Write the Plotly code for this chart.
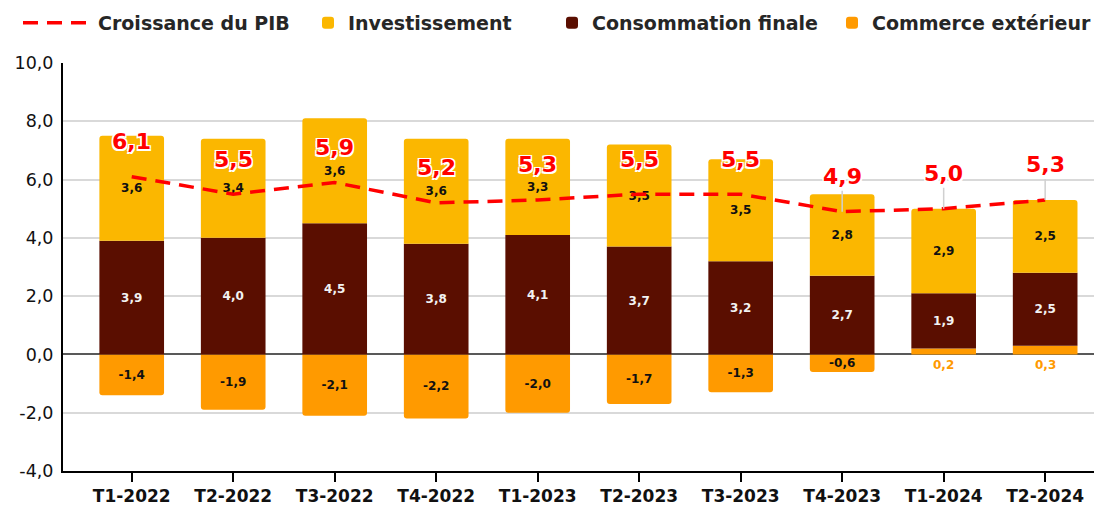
import plotly.graph_objects as go

categories = ["T1-2022", "T2-2022", "T3-2022", "T4-2022", "T1-2023",
              "T2-2023", "T3-2023", "T4-2023", "T1-2024", "T2-2024"]
investissement = [3.6, 3.4, 3.6, 3.6, 3.3, 3.5, 3.5, 2.8, 2.9, 2.5]
consommation = [3.9, 4.0, 4.5, 3.8, 4.1, 3.7, 3.2, 2.7, 1.9, 2.5]
commerce = [-1.4, -1.9, -2.1, -2.2, -2.0, -1.7, -1.3, -0.6, 0.2, 0.3]
pib = [6.1, 5.5, 5.9, 5.2, 5.3, 5.5, 5.5, 4.9, 5.0, 5.3]

y_ticks = [-4, -2, 0, 2, 4, 6, 8, 10]
y_tick_labels = ["-4,0", "-2,0", "0,0", "2,0", "4,0", "6,0", "8,0", "10,0"]

C_INV = "#FBB700"
C_CONS = "#5A0E00"
C_COM = "#FF9A00"
C_PIB = "#FF0000"
FONT = "DejaVu Sans"

W, H = 1094, 499  # page body has an 8px margin


def fr(v):
    return f"{v:.1f}".replace(".", ",")


fig = go.Figure()

fig.add_trace(go.Bar(
    x=categories, y=commerce, name="Commerce extérieur",
    marker=dict(color=C_COM, line=dict(width=0)),
    text=[fr(v) if v < 0 else "" for v in commerce],
    textposition="inside", insidetextanchor="middle", textangle=0,
    textfont=dict(family=FONT, size=12, color="#111111", weight="bold"),
    legend="legend4", hoverinfo="skip",
))
fig.add_trace(go.Bar(
    x=categories, y=consommation, name="Consommation finale",
    marker=dict(color=C_CONS, line=dict(width=0)),
    text=[fr(v) for v in consommation],
    textposition="inside", insidetextanchor="middle", textangle=0,
    textfont=dict(family=FONT, size=12, color="#F2F2F2", weight="bold"),
    legend="legend3", hoverinfo="skip",
))
fig.add_trace(go.Bar(
    x=categories, y=investissement, name="Investissement",
    marker=dict(color=C_INV, line=dict(width=0)),
    text=[fr(v) for v in investissement],
    textposition="inside", insidetextanchor="middle", textangle=0,
    textfont=dict(family=FONT, size=12, color="#111111", weight="bold"),
    legend="legend2", hoverinfo="skip",
))
fig.add_trace(go.Scatter(
    x=categories, y=pib, name="Croissance du PIB", mode="lines",
    line=dict(color=C_PIB, width=3.5, dash="15px,9px"),
    legend="legend", hoverinfo="skip",
))

annotations = []
for i, cat in enumerate(categories):
    top = max(commerce[i], 0) + consommation[i] + investissement[i]
    leader = pib[i] + 0.79 > top
    annotations.append(dict(
        x=cat, y=pib[i], xref="x", yref="y",
        text=fr(pib[i]), showarrow=True, ax=0, ay=-35,
        arrowhead=0, arrowwidth=1.5, standoff=0,
        arrowcolor="#D0D0D0" if leader else "rgba(0,0,0,0)",
        font=dict(family=FONT, size=22, color=C_PIB, weight="bold",
                  shadow="1.5px 1.5px 0 #fff, -1.5px -1.5px 0 #fff, 1.5px -1.5px 0 #fff, -1.5px 1.5px 0 #fff"),
    ))
    if commerce[i] > 0:
        annotations.append(dict(
            x=cat, y=0, xref="x", yref="y", text=fr(commerce[i]),
            showarrow=False, yanchor="middle", yshift=-11,
            font=dict(family=FONT, size=12, color=C_COM, weight="bold"),
        ))

legend_common = dict(
    orientation="h", xref="container", yref="container",
    xanchor="left", yanchor="middle", y=1 - 15 / H,
    bgcolor="rgba(0,0,0,0)", borderwidth=0,
    font=dict(family=FONT, size=19, color="#262626", weight="bold"),
)

fig.update_layout(
    width=W, height=H,
    margin=dict(l=55, r=0, t=55, b=36, autoexpand=False),
    paper_bgcolor="white", plot_bgcolor="white",
    barmode="relative", bargap=0.363,
    barcornerradius=3,
    uniformtext=dict(mode="show", minsize=12),
    showlegend=True,
    legend=dict(**legend_common, x=10 / W, itemwidth=70),
    legend2=dict(**legend_common, x=300 / W),
    legend3=dict(**legend_common, x=544 / W),
    legend4=dict(**legend_common, x=824 / W),
    annotations=annotations,
    xaxis=dict(
        type="category", range=[-0.677, 9.56],
        showline=True, linecolor="#000000", linewidth=2,
        ticks="outside", ticklen=9, tickwidth=2, tickcolor="#000000",
        ticklabelstandoff=0,
        showgrid=False, automargin=False,
        tickfont=dict(family=FONT, size=17, color="#111111", weight="bold"),
    ),
    yaxis=dict(
        range=[-4, 10], tickvals=y_ticks, ticktext=y_tick_labels,
        showline=True, linecolor="#000000", linewidth=2,
        showgrid=True, gridcolor="#D9D9D9", gridwidth=1.5,
        zeroline=True, zerolinecolor="#595959", zerolinewidth=2,
        ticks="", automargin=False, ticklabelstandoff=4,
        tickfont=dict(family=FONT, size=17.5, color="#111111"),
    ),
)

fig.write_html("out.html")
